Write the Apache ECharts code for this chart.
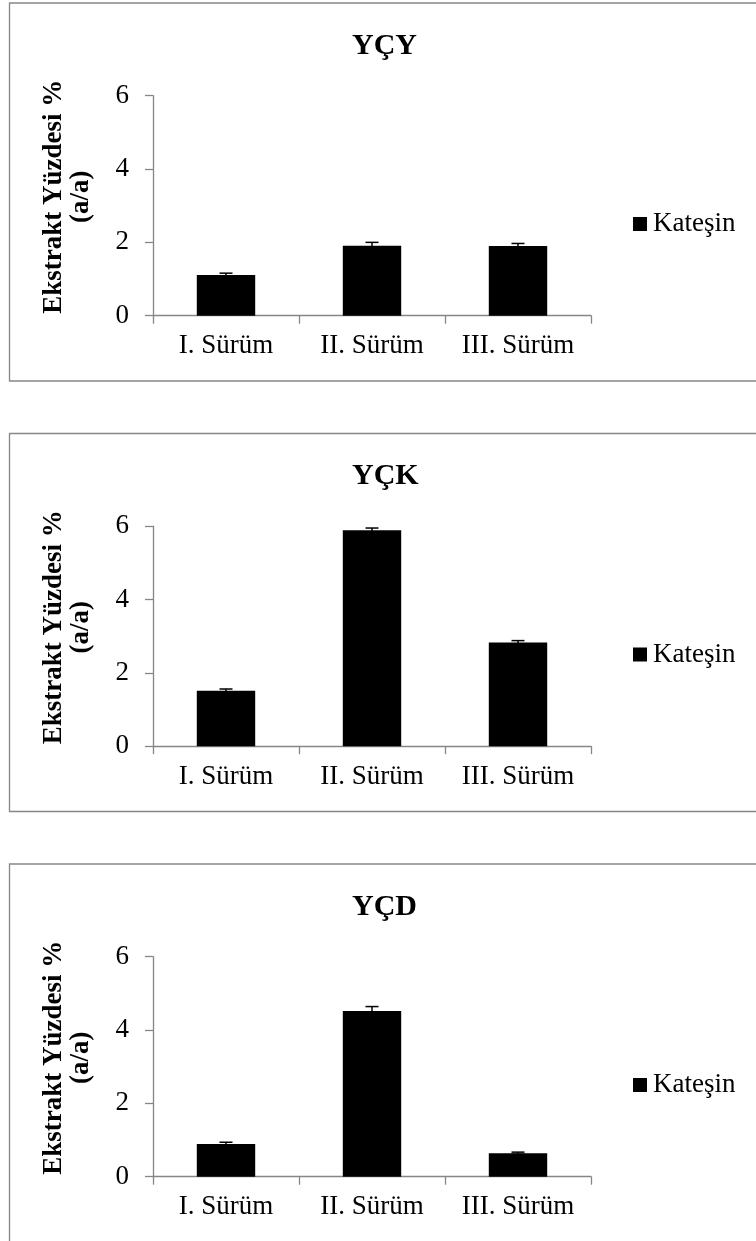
<!DOCTYPE html>
<html>
<head>
<meta charset="utf-8">
<title>Kateşin</title>
<script src="https://cdn.jsdelivr.net/npm/echarts@6/dist/echarts.min.js"></script>
<style>
  html, body { margin: 0; padding: 0; background: #fff; }
  #chart { width: 756px; height: 1241px; }
</style>
</head>
<body>
<div id="chart"></div>
<script>
// Category labels shared by the three panels
const categories = ['I. Sürüm', 'II. Sürüm', 'III. Sürüm'];

// Panel titles
const panelTitles = ['YÇY', 'YÇK', 'YÇD'];

// Catechin extract percentages (w/w) and their standard errors
const ycyValues = [1.11, 1.91, 1.90];
const ycyErrors = [0.05, 0.09, 0.07];
const yckValues = [1.51, 5.89, 2.83];
const yckErrors = [0.05, 0.06, 0.05];
const ycdValues = [0.89, 4.52, 0.64];
const ycdErrors = [0.05, 0.12, 0.03];

// Y axis ticks
const yMin = 0, yMax = 6, yStep = 2;

const seriesName = 'Kateşin';
const yAxisName = 'Ekstrakt Yüzdesi %\n(a/a)';

const panelValues = [ycyValues, yckValues, ycdValues];
const panelErrors = [ycyErrors, yckErrors, ycdErrors];

// Layout of the stacked panels
const panelTops = [3, 433.5, 864];
const panelHeight = 378;
const serif = 'Liberation Serif';
const axisGrey = '#868686';

const chart = echarts.init(document.getElementById('chart'), null, { renderer: 'canvas' });

const grids = [], xAxes = [], yAxes = [], series = [], titles = [], legends = [], graphics = [];

panelTops.forEach((top, i) => {
  // frame around each panel
  graphics.push({
    type: 'rect',
    silent: true,
    shape: { x: 9.5, y: top, width: 760, height: panelHeight },
    style: { fill: null, stroke: axisGrey, lineWidth: 1.3 }
  });

  titles.push({
    text: panelTitles[i],
    left: 352,
    top: top + 27,
    padding: 0,
    textStyle: { fontFamily: serif, fontWeight: 'bold', fontSize: 30, color: '#000', lineHeight: 32 }
  });

  legends.push({
    data: [seriesName],
    left: 633,
    top: top + 207,
    padding: 0,
    itemWidth: 14,
    itemHeight: 14,
    itemGap: 6,
    icon: 'rect',
    selectedMode: false,
    textStyle: { fontFamily: serif, fontSize: 27, color: '#000', lineHeight: 28, padding: [0, 0, 0, 1] }
  });

  grids.push({ left: 153, right: 165, top: top + 92.7, height: 220 });

  xAxes.push({
    type: 'category',
    gridIndex: i,
    data: categories,
    axisLine: { show: true, lineStyle: { color: axisGrey, width: 1.3 } },
    axisTick: { show: true, length: 8, alignWithLabel: false, lineStyle: { color: axisGrey, width: 1.3 } },
    axisLabel: { interval: 0, hideOverlap: false, fontFamily: serif, fontSize: 27, color: '#000', margin: 17 },
    splitLine: { show: false }
  });

  yAxes.push({
    type: 'value',
    gridIndex: i,
    min: yMin,
    max: yMax,
    interval: yStep,
    name: yAxisName,
    nameLocation: 'middle',
    nameGap: 58,
    nameRotate: 90,
    nameTextStyle: { fontFamily: serif, fontWeight: 'bold', fontSize: 27, color: '#000', lineHeight: 27, padding: [0, 0, 0, 18] },
    axisLine: { show: true, lineStyle: { color: axisGrey, width: 1.3 } },
    axisTick: { show: true, length: 8, lineStyle: { color: axisGrey, width: 1.3 } },
    axisLabel: { fontFamily: serif, fontSize: 27, color: '#000', margin: 24 },
    splitLine: { show: false }
  });

  series.push({
    name: seriesName,
    type: 'bar',
    xAxisIndex: i,
    yAxisIndex: i,
    barWidth: '40%',
    itemStyle: { color: '#000' },
    data: panelValues[i],
    z: 2
  });

  // error bars: vertical whisker with a cap at the top and bottom
  series.push({
    name: seriesName + ' hata',
    type: 'custom',
    xAxisIndex: i,
    yAxisIndex: i,
    data: panelValues[i].map((v, k) => [k, v - panelErrors[i][k], v + panelErrors[i][k]]),
    renderItem: function (params, api) {
      const lo = api.coord([api.value(0), api.value(1)]);
      const hi = api.coord([api.value(0), api.value(2)]);
      const half = 6.5;
      const st = { stroke: '#000', lineWidth: 1.5 };
      return {
        type: 'group',
        children: [
          { type: 'line', shape: { x1: hi[0], y1: hi[1], x2: lo[0], y2: lo[1] }, style: st },
          { type: 'line', shape: { x1: hi[0] - half, y1: hi[1], x2: hi[0] + half, y2: hi[1] }, style: st },
          { type: 'line', shape: { x1: lo[0] - half, y1: lo[1], x2: lo[0] + half, y2: lo[1] }, style: st }
        ]
      };
    },
    z: 3
  });
});

chart.setOption({
  animation: false,
  backgroundColor: '#fff',
  title: titles,
  legend: legends,
  grid: grids,
  xAxis: xAxes,
  yAxis: yAxes,
  series: series,
  graphic: graphics
});
</script>
</body>
</html>
